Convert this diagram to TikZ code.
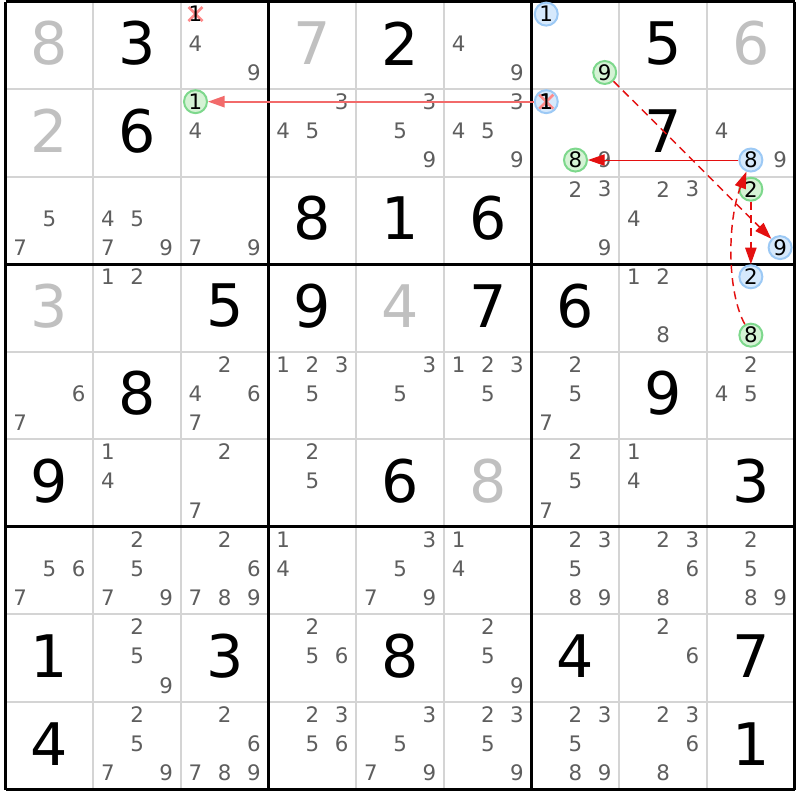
\documentclass[tikz,border=0pt]{standalone}
\usepackage{fontspec}
\setmainfont{DejaVu Sans}
\usetikzlibrary{arrows.meta}
\definecolor{candgray}{HTML}{5E5E5E}
\definecolor{solvedgray}{HTML}{C0C0C0}
\definecolor{thingrid}{HTML}{D4D4D4}
\definecolor{bluefill}{HTML}{D6E9FC}
\definecolor{bluedraw}{HTML}{9CC9F5}
\definecolor{greenfill}{HTML}{D5F3D5}
\definecolor{greendraw}{HTML}{7DD88C}
\definecolor{crosspink}{HTML}{FF8A8A}
\definecolor{linkpink}{HTML}{F26A6A}
\definecolor{linkred}{HTML}{E41010}
\newcommand\cx[2]{5.5+(#1-0.5)*87.69+(mod(#2-1,3)-1)*29.23}
\newcommand\cy[2]{1.5+(#1-0.5)*87.56+(floor((#2-1)/3)-1)*29.19-2}
\newcommand\candnode[4]{% style, row, col, digit
  \node[#1] (k-#2-#3-#4) at ({5.5+(#3-0.5)*87.69+(mod(#4-1,3)-1)*29.23},{1.5+(#2-0.5)*87.56+(floor((#4-1)/3)-1)*29.19-2}) {#4};}
\newcommand\crossmark[3]{% row, col, digit
  \coordinate (x-#1-#2-#3) at ({5.5+(#2-0.5)*87.69+(mod(#3-1,3)-1)*29.23},{1.5+(#1-0.5)*87.56+(floor((#3-1)/3)-1)*29.19-2});
  \draw[crossline] ([shift={(-7,-7)}]x-#1-#2-#3) -- ([shift={(7,7)}]x-#1-#2-#3);
  \draw[crossline] ([shift={(-7,7)}]x-#1-#2-#3) -- ([shift={(7,-7)}]x-#1-#2-#3);}
\begin{document}
\begin{tikzpicture}[x=0.75pt,y=-0.75pt,
  given/.style={inner sep=0pt,font=\fontsize{44}{44}\selectfont,text=black},
  solved/.style={given,text=solvedgray},
  cand/.style={inner sep=0pt,font=\fontsize{16}{16}\selectfont,text=candgray},
  candblack/.style={cand,text=black},
  bluec/.style={candblack,circle,minimum size=17.25pt,fill=bluefill,draw=bluedraw,line width=1.5pt},
  greenc/.style={candblack,circle,minimum size=17.25pt,fill=greenfill,draw=greendraw,line width=1.5pt},
  crossline/.style={crosspink,line width=2pt},
  thin/.style={thingrid,line width=1.4pt},
  thick/.style={black,line width=2.3pt},
  tip/.style={-{Triangle[length=12.5pt,width=8.5pt]}},
  linkA/.style={tip,linkpink,line width=1.3pt},
  linkB/.style={tip,linkred,line width=0.8pt},
  linkC/.style={tip,linkred,line width=1.1pt,dash pattern=on 6pt off 4pt}]
\useasboundingbox (0,0) rectangle (800,800);
\fill[white] (0,0) rectangle (800,800);
% thin grid
\foreach \i in {1,2,4,5,7,8} {
  \draw[thin] ({5.5+\i*87.69},1.5) -- ({5.5+\i*87.69},789.5);
  \draw[thin] (5.5,{1.5+\i*87.56}) -- (794.7,{1.5+\i*87.56});
}
% thick grid
\foreach \i in {0,3,6,9} {
  \draw[thick] ({5.5+\i*87.69},1.5) -- ({5.5+\i*87.69},789.5);
  \draw[thick] (5.5,{1.5+\i*87.56}) -- (794.7,{1.5+\i*87.56});
}
% solved (gray) digits
\foreach \r/\c/\d in {1/1/8,1/4/7,1/9/6,2/1/2,4/1/3,4/5/4,6/6/8}
  \node[solved] (g-\r-\c) at ({5.5+(\c-0.5)*87.69},{1.5+(\r-0.5)*87.56-2}) {\d};
% given digits
\foreach \r/\c/\d in {1/2/3,1/5/2,1/8/5,2/2/6,2/8/7,3/4/8,3/5/1,3/6/6,
  4/3/5,4/4/9,4/6/7,4/7/6,5/2/8,5/8/9,6/1/9,6/5/6,6/9/3,
  8/1/1,8/3/3,8/5/8,8/7/4,8/9/7,9/1/4,9/9/1}
  \node[given] (g-\r-\c) at ({5.5+(\c-0.5)*87.69},{1.5+(\r-0.5)*87.56-2}) {\d};
% candidates
\foreach \r/\c/\L in {1/3/{4,9},1/6/{4,9},2/3/{4},2/4/{3,4,5},2/5/{3,5,9},
  2/6/{3,4,5,9},2/7/{9},2/9/{4,9},3/1/{5,7},3/2/{4,5,7,9},3/3/{7,9},
  3/7/{2,3,9},3/8/{2,3,4},4/2/{1,2},4/8/{1,2,8},5/1/{6,7},5/3/{2,4,6,7},
  5/4/{1,2,3,5},5/5/{3,5},5/6/{1,2,3,5},5/7/{2,5,7},5/9/{2,4,5},
  6/2/{1,4},6/3/{2,7},6/4/{2,5},6/7/{2,5,7},6/8/{1,4},
  7/1/{5,6,7},7/2/{2,5,7,9},7/3/{2,6,7,8,9},7/4/{1,4},7/5/{3,5,7,9},
  7/6/{1,4},7/7/{2,3,5,8,9},7/8/{2,3,6,8},7/9/{2,5,8,9},
  8/2/{2,5,9},8/4/{2,5,6},8/6/{2,5,9},8/8/{2,6},
  9/2/{2,5,7,9},9/3/{2,6,7,8,9},9/4/{2,3,5,6},9/5/{3,5,7,9},
  9/6/{2,3,5,9},9/7/{2,3,5,8,9},9/8/{2,3,6,8}}
  {\foreach \d in \L {\candnode{cand}{\r}{\c}{\d}}}
% highlighted candidates
\crossmark{1}{3}{1}
\candnode{candblack}{1}{3}{1}
\candnode{bluec}{1}{7}{1}
\candnode{greenc}{1}{7}{9}
\candnode{greenc}{2}{3}{1}
\candnode{bluec}{2}{7}{1}
\crossmark{2}{7}{1}
\node[candblack] (k-2-7-1t) at (k-2-7-1) {1};
\candnode{greenc}{2}{7}{8}
\candnode{bluec}{2}{9}{8}
\candnode{greenc}{3}{9}{2}
\candnode{bluec}{3}{9}{9}
\candnode{bluec}{4}{9}{2}
\candnode{greenc}{4}{9}{8}
% links
\draw[linkA] (k-2-7-1) -- (k-2-3-1);
\draw[linkB] (k-2-9-8) -- (k-2-7-8);
\draw[linkC] (k-1-7-9) -- (k-3-9-9);
\draw[linkC] (k-3-9-2) -- (k-4-9-2);
\draw[linkC] (k-4-9-8) .. controls (727,292) and (727,222) .. (k-2-9-8);
\end{tikzpicture}
\end{document}
